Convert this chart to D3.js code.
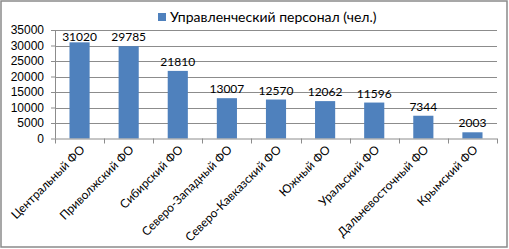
<!DOCTYPE html>
<html>
<head>
<meta charset="utf-8">
<script src="https://cdn.jsdelivr.net/npm/d3@7"></script>
<style>
  html, body { margin: 0; padding: 0; background: #fff; }
  svg { display: block; font-family: Lato, "Liberation Sans", sans-serif; }
</style>
</head>
<body>
<div id="chart"></div>
<script>
// Data
const categories = ['Центральный ФО', 'Приволжский ФО', 'Сибирский ФО', 'Северо-Западный ФО',
  'Северо-Кавказский ФО', 'Южный ФО', 'Уральский ФО', 'Дальневосточный ФО', 'Крымский ФО'];
const values = [31020, 29785, 21810, 13007, 12570, 12062, 11596, 7344, 2003];
const seriesName = 'Управленческий персонал (чел.)';
const yTicks = [0, 5000, 10000, 15000, 20000, 25000, 30000, 35000];

const width = 509;
const height = 249;
const margin = { top: 30, right: 12, bottom: 110.5, left: 55 };
const innerWidth = width - margin.left - margin.right;
const innerHeight = height - margin.top - margin.bottom;

const barColor = '#4f81bd';
const gridColor = '#8c8c8c';

const svg = d3.select('#chart')
  .append('svg')
  .attr('width', width)
  .attr('height', height);

// Outer border
svg.append('rect')
  .attr('x', 1)
  .attr('y', 1)
  .attr('width', width - 3)
  .attr('height', height - 3)
  .attr('fill', '#fff')
  .attr('stroke', '#8a8a8a')
  .attr('stroke-width', 1.5);

const g = svg.append('g')
  .attr('transform', `translate(${margin.left},${margin.top})`);

// Scales
const xScale = d3.scaleBand()
  .domain(categories)
  .range([0, innerWidth])
  .paddingInner(0.59)
  .paddingOuter(0.295);

const yScale = d3.scaleLinear()
  .domain([0, 35000])
  .range([innerHeight, 0]);

// Gridlines
g.selectAll('.grid')
  .data(yTicks.filter(d => d > 0))
  .enter()
  .append('line')
  .attr('x1', 0)
  .attr('x2', innerWidth)
  .attr('y1', d => Math.round(yScale(d)) + 0.5)
  .attr('y2', d => Math.round(yScale(d)) + 0.5)
  .attr('stroke', gridColor)
  .attr('stroke-width', 1);

// Y axis
const yAxis = g.append('g')
  .attr('class', 'y-axis')
  .call(d3.axisLeft(yScale)
    .tickValues(yTicks)
    .tickSize(4)
    .tickPadding(7)
    .tickFormat(d => d));

yAxis.select('.domain')
  .attr('stroke', gridColor)
  .attr('d', `M0.5,0V${innerHeight}`);
yAxis.selectAll('line').attr('stroke', gridColor);
yAxis.selectAll('text')
  .style('font-size', '12px')
  .style('fill', '#000');

// Bars
g.selectAll('.bar')
  .data(values)
  .enter()
  .append('rect')
  .attr('class', 'bar')
  .attr('x', (d, i) => xScale(categories[i]))
  .attr('y', d => yScale(d))
  .attr('width', xScale.bandwidth())
  .attr('height', d => innerHeight - yScale(d))
  .attr('fill', barColor);

// Data labels (kept inside the plot area near the top)
g.selectAll('.label')
  .data(values)
  .enter()
  .append('text')
  .attr('class', 'label')
  .attr('x', (d, i) => xScale(categories[i]) + xScale.bandwidth() / 2)
  .attr('y', d => Math.max(yScale(d) - 5, 10.5))
  .attr('text-anchor', 'middle')
  .style('font-size', '12px')
  .style('fill', '#000')
  .text(d => d);

// X axis: ticks at category boundaries
const step = xScale.step();
const boundaries = d3.range(categories.length + 1).map(i => i * step);

g.append('line')
  .attr('x1', 0)
  .attr('x2', innerWidth)
  .attr('y1', innerHeight + 0.5)
  .attr('y2', innerHeight + 0.5)
  .attr('stroke', gridColor);

g.selectAll('.xtick')
  .data(boundaries)
  .enter()
  .append('line')
  .attr('x1', d => Math.round(d) + 0.5)
  .attr('x2', d => Math.round(d) + 0.5)
  .attr('y1', innerHeight)
  .attr('y2', innerHeight + 5)
  .attr('stroke', gridColor);

// Rotated category labels
g.selectAll('.xlabel')
  .data(categories)
  .enter()
  .append('text')
  .attr('class', 'xlabel')
  .attr('text-anchor', 'end')
  .attr('transform', d => {
    const x = xScale(d) + xScale.bandwidth() / 2 + 6;
    const y = innerHeight + 12;
    return `translate(${x},${y}) rotate(-45)`;
  })
  .style('font-size', '12px')
  .style('fill', '#000')
  .text(d => d);

// Legend
const legend = svg.append('g')
  .attr('transform', 'translate(158,13)');

legend.append('rect')
  .attr('width', 8)
  .attr('height', 8)
  .attr('fill', barColor);

legend.append('text')
  .attr('x', 12)
  .attr('y', 8.5)
  .style('font-size', '14px')
  .style('fill', '#000')
  .text(seriesName);
</script>
</body>
</html>
